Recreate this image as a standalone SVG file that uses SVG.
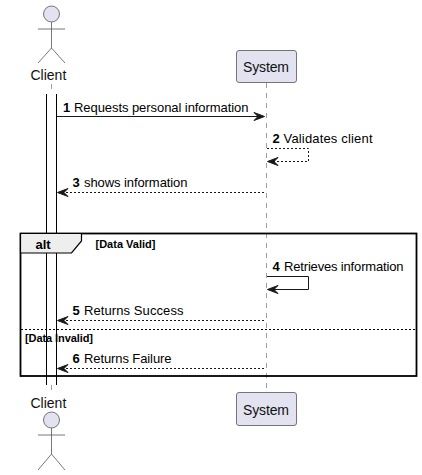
<svg xmlns="http://www.w3.org/2000/svg" width="422" height="475" viewBox="0 0 422 475">
<style>
text{font-family:"Liberation Sans",Arial,sans-serif;fill:#000}
.m{font-size:13px}.n{font-size:13px;font-weight:bold}.g{font-size:11px;font-weight:bold}
.p{font-size:14px;fill:#111}
.ll{stroke:#181818;stroke-opacity:.7;stroke-width:.6;stroke-dasharray:5,5;fill:none}
.act{fill:none;stroke:#000;stroke-width:1}
.actor{fill:#E2E2F0;stroke:#555;stroke-width:.8}
.stick{fill:none;stroke:#555;stroke-width:.8}
.box{fill:#E2E2F0;stroke:#555;stroke-width:.8}
.s{fill:none;stroke:#181818;stroke-width:1}
.d{fill:none;stroke:#181818;stroke-width:1;stroke-dasharray:2,2}
.h{fill:#181818;stroke:#181818;stroke-width:1}
</style>
<g id="lifelines">
<path class="ll" d="M51.5 84V94M51.5 385V390"/>
<path class="ll" d="M266.5 83V392"/>
</g>
<g id="client-top">
<circle class="actor" cx="51.5" cy="14" r="8"/>
<path class="stick" d="M51.5 22V48M38 29H65M38 63L51.5 48L65 63"/>
<text class="p" x="30.500" y="80">Client</text>
</g>
<g id="system-top">
<rect class="box" x="236.500" y="50.500" width="60" height="32" rx="2.500"/>
<text class="p" x="243" y="72" textLength="46">System</text>
</g>
<g id="activation">
<path class="act" d="M46.500 94V385M56.500 94V385"/>
</g>
<g id="alt-frame">
<rect x="20.500" y="233.500" width="396" height="142.500" fill="none" stroke="#000" stroke-width="1.800"/>
<path d="M20.500 233.500H81.500V241L71.500 253H20.500Z" fill="#EEE" stroke="#000" stroke-width="1.200"/>
<text x="35.500" y="249" style="font-size:13px;font-weight:bold">alt</text>
<text class="g" x="95.500" y="248">[Data Valid]</text>
<path d="M21 329.500H416" fill="none" stroke="#000" stroke-width="1" stroke-dasharray="2,2"/>
<text class="g" x="25" y="342" textLength="68">[Data Invalid]</text>
</g>
<g id="connectors">
<path class="s" d="M57 116.500H263"/>
<path class="h" d="M254 112.500L264.500 116.500L254 120.500L258 116.500Z"/>
<path class="d" d="M267 148.500H308.500V161.500H269"/>
<path class="h" d="M278 157.500L267.500 161.500L278 165.500L274 161.500Z"/>
<path class="d" d="M264 192.500H60"/>
<path class="h" d="M68 188.500L57.500 192.500L68 196.500L64 192.500Z"/>
<path class="s" d="M267 276.500H308.500V289.500H269"/>
<path class="h" d="M278 285.500L267.500 289.500L278 293.500L274 289.500Z"/>
<path class="d" d="M264 320.500H60"/>
<path class="h" d="M68 316.500L57.500 320.500L68 324.500L64 320.500Z"/>
<path class="d" d="M264 368.500H60"/>
<path class="h" d="M68 364.500L57.500 368.500L68 372.500L64 368.500Z"/>
</g>
<g id="labels">
<text class="n" x="63" y="112">1</text><text class="m" x="74" y="112" textLength="174.500">Requests personal information</text>
<text class="n" x="272.500" y="143">2</text><text class="m" x="283.500" y="143" textLength="89">Validates client</text>
<text class="n" x="72.500" y="187">3</text><text class="m" x="84" y="187" textLength="103.500">shows information</text>
<text class="n" x="272.500" y="271">4</text><text class="m" x="284" y="271" textLength="119.500">Retrieves information</text>
<text class="n" x="72.500" y="315">5</text><text class="m" x="84" y="315" textLength="99.500">Returns Success</text>
<text class="n" x="72.500" y="363">6</text><text class="m" x="84" y="363" textLength="87.500">Returns Failure</text>
</g>
<g id="client-bottom">
<text class="p" x="30.500" y="408">Client</text>
<circle class="actor" cx="51.500" cy="420" r="8"/>
<path class="stick" d="M51.500 428V454M38 435H65M38 470L51.500 454L65 470"/>
</g>
<g id="system-bottom">
<rect class="box" x="236.500" y="392.500" width="60" height="33" rx="2.500"/>
<text class="p" x="243" y="415" textLength="46">System</text>
</g>
</svg>
